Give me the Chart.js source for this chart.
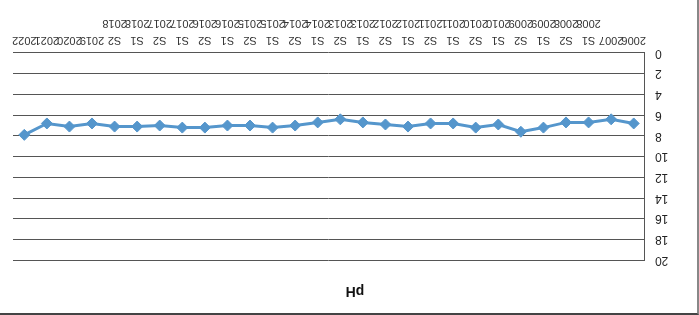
<!DOCTYPE html>
<html>
<head>
<meta charset="utf-8">
<script src="https://cdn.jsdelivr.net/npm/chart.js@4/dist/chart.umd.min.js"></script>
<style>
    html, body { margin: 0; padding: 0; background: #fff; }
    #wrap {
        width: 697px; height: 313px;
        border-top: 2px solid #444; border-left: 2px solid #888;
        transform: rotate(180deg);
    }
</style>
</head>
<body>
<div id="wrap"><canvas id="phChart" width="697" height="313"></canvas></div>
<script>
    // Etiquetas del eje X (dos líneas para los semestres)
    let years = ['2006', '2007', '2008', '2009', '2010', '2011', '2012', '2013', '2014', '2015', '2016', '2017', '2018', '2019', '2020', '2021', '2022'];
    let semesterYears = ['2008', '2009', '2010', '2011', '2012', '2013', '2014', '2015', '2016', '2017', '2018'];
    let semesters = ['S1', 'S2'];

    // Valores de pH
    let phValues = [6.8, 6.4, 6.7, 6.7, 7.2, 7.6, 6.9, 7.2, 6.8, 6.8, 7.1, 6.9, 6.7, 6.4,
                    6.7, 7.0, 7.2, 7.0, 7.0, 7.2, 7.2, 7.0, 7.1, 7.1, 6.8, 7.1, 6.8, 7.9];

    let yTicks = [0, 2, 4, 6, 8, 10, 12, 14, 16, 18, 20];

    let labels = [[years[0]], [years[1]]];
    semesterYears.forEach(y => {
        semesters.forEach(s => labels.push([s, y]));
    });
    years.slice(13).forEach(y => labels.push([y]));

    let ctx = document.getElementById('phChart').getContext('2d');
    let phChart = new Chart(ctx, {
        type: 'line',
        data: {
            labels: labels,
            datasets: [{
                label: 'pH',
                data: phValues,
                borderColor: '#5596cc',
                backgroundColor: '#5596cc',
                borderWidth: 3,
                pointStyle: 'rectRot',
                pointRadius: 5.5,
                pointBorderWidth: 1,
                tension: 0
            }]
        },
        options: {
            responsive: false,
            animation: false,
            layout: { padding: { top: 0, right: 13, bottom: 0, left: 0 } },
            plugins: {
                legend: { display: false },
                tooltip: { enabled: false },
                title: {
                    display: true,
                    text: 'pH',
                    color: '#111',
                    font: { family: 'Liberation Sans', size: 14, weight: 'bold' },
                    padding: { top: 14, bottom: 22 }
                }
            },
            scales: {
                x: {
                    offset: true,
                    grid: { display: false, drawTicks: false },
                    border: { display: false },
                    ticks: {
                        autoSkip: false,
                        maxRotation: 0,
                        minRotation: 0,
                        padding: 5,
                        color: '#333',
                        font: { family: 'Liberation Sans', size: 11, lineHeight: 1.5 }
                    },
                    afterFit: scale => { scale.height = 53; }
                },
                y: {
                    min: 0,
                    max: 20,
                    afterBuildTicks: scale => { scale.ticks = yTicks.map(v => ({ value: v })); },
                    grid: { color: '#555', lineWidth: 1, drawTicks: false },
                    border: { display: true, color: '#555' },
                    ticks: {
                        padding: 10,
                        color: '#222',
                        font: { family: 'Liberation Sans', size: 12 }
                    },
                    afterFit: scale => { scale.width = 52; }
                }
            }
        }
    });
</script>
</body>
</html>
